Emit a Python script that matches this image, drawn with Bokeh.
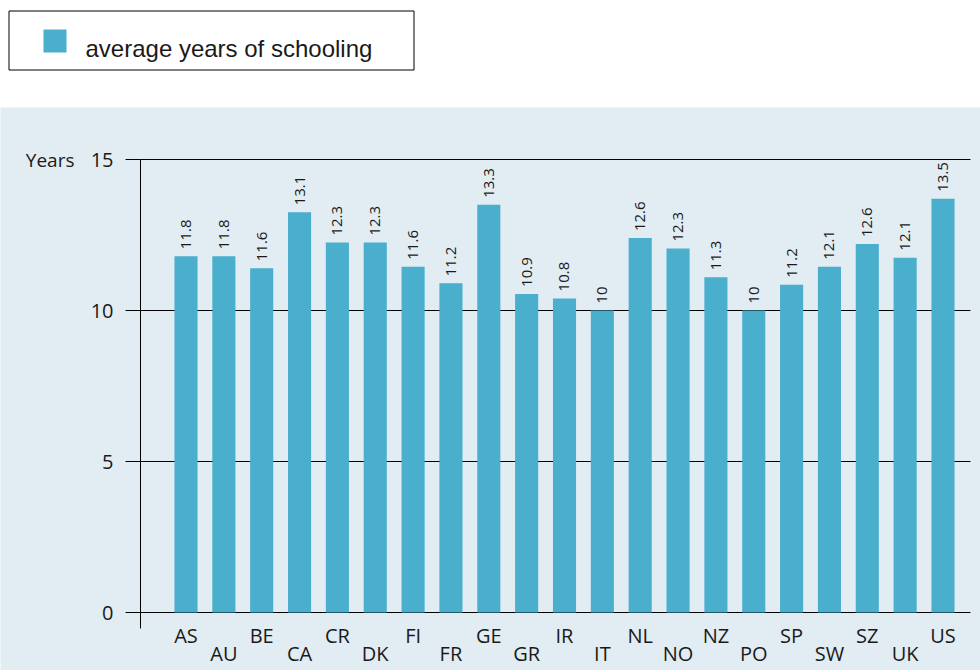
from bokeh.plotting import figure
from bokeh.models import (ColumnDataSource, Range1d, FixedTicker, LabelSet, LinearAxis)
from bokeh.layouts import column
from bokeh.core.properties import value
from bokeh.embed import file_html
from bokeh.resources import INLINE

# ---------------- data ----------------
countries = ["AS", "AU", "BE", "CA", "CR", "DK", "FI", "FR", "GE", "GR", "IR",
             "IT", "NL", "NO", "NZ", "PO", "SP", "SW", "SZ", "UK", "US"]
bar_heights = [11.8, 11.8, 11.4, 13.25, 12.25, 12.25, 11.45, 10.9, 13.5, 10.55, 10.4,
               10.0, 12.4, 12.05, 11.1, 10.0, 10.85, 11.45, 12.2, 11.75, 13.7]
value_labels = ["11.8", "11.8", "11.6", "13.1", "12.3", "12.3", "11.6", "11.2", "13.3", "10.9", "10.8",
                "10", "12.6", "12.3", "11.3", "10", "11.2", "12.1", "12.6", "12.1", "13.5"]
y_ticks = [0, 5, 10, 15]
series_name = "average years of schooling"
y_unit = "Years"

# ---------------- style / geometry (pixels) ----------------
BAR = "#4AAFCD"
PANEL = "#E1ECF3"
TXT = "#1a1a1a"
FONT = "Open Sans"

W = 980
TOP_H = 107
BOT_H = 563
AXIS_PX = 140          # y axis position (page x)
RIGHT_PX = 970         # right end of grid lines
Y15_PX, Y0_PX = 52, 505  # pixel rows (from top of chart figure) of 15 and 0
AXIS_BOTTOM_PX = 521
FIRST_BAR_PX = 185.5
PITCH = 37.85

ppu = (Y0_PX - Y15_PX) / 15.0
y_top = 15 + Y15_PX / ppu
y_bot = -(BOT_H - Y0_PX) / ppu
x_start = 1 - FIRST_BAR_PX / PITCH
x_end = x_start + W / PITCH
x_axis = x_start + AXIS_PX / PITCH
x_right = x_start + RIGHT_PX / PITCH
y_axis_low = -(AXIS_BOTTOM_PX - Y0_PX) / ppu

# ---------------- legend figure ----------------
top = figure(width=W, height=TOP_H, x_range=Range1d(0, W), y_range=Range1d(TOP_H, 0),
             output_backend="svg", toolbar_location=None, title=None,
             min_border=0, min_border_left=0, min_border_right=0,
             min_border_top=0, min_border_bottom=0)
top.axis.visible = False
top.grid.visible = False
top.outline_line_color = None
top.background_fill_color = "white"
top.border_fill_color = "white"
top.quad(left=[8.5], right=[413.5], top=[10.5], bottom=[69.5],
         fill_color="white", line_color="black", line_width=1)
top.quad(left=[43], right=[66], top=[29], bottom=[52], fill_color=BAR, line_color=None)
top.text(x=[85], y=[48], text=[series_name], text_font=value("Liberation Sans"),
         text_font_size="24px", text_color=TXT, text_baseline="alphabetic", text_align="left")

# ---------------- chart ----------------
p = figure(width=W, height=BOT_H, x_range=Range1d(x_start, x_end), y_range=Range1d(y_bot, y_top),
           output_backend="svg", toolbar_location=None, title=None,
           x_axis_location=None, y_axis_location=None,
           min_border=0, min_border_left=0, min_border_right=0,
           min_border_top=0, min_border_bottom=0)
p.background_fill_color = PANEL
p.border_fill_color = PANEL
p.outline_line_color = None
p.grid.visible = False

idx = list(range(1, len(countries) + 1))
src = ColumnDataSource(dict(x=idx, top=bar_heights, lab=value_labels))

# grid lines (from the y ticks)
p.segment(x0=[x_axis] * len(y_ticks), x1=[x_right] * len(y_ticks), y0=y_ticks, y1=y_ticks,
          line_color="black", line_width=1)

p.vbar(x="x", top="top", width=0.61, source=src, fill_color=BAR, line_color=None)

# y axis
yax = LinearAxis(fixed_location=x_axis, bounds=(y_axis_low, max(y_ticks)),
                 ticker=FixedTicker(ticks=y_ticks))
yax.major_tick_out = 15
yax.major_tick_in = 0
yax.minor_tick_out = 0
yax.minor_tick_in = 0
yax.axis_line_color = "black"
yax.major_tick_line_color = "black"
yax.major_label_standoff = 12
yax.major_label_text_font = FONT
yax.major_label_text_font_size = "20px"
yax.major_label_text_color = TXT
p.add_layout(yax, "left")

# unit label beside the top tick
uax = LinearAxis(fixed_location=x_axis, ticker=FixedTicker(ticks=[max(y_ticks)]),
                 major_label_overrides={max(y_ticks): y_unit})
uax.axis_line_color = None
uax.major_tick_line_color = None
uax.minor_tick_line_color = None
uax.major_tick_out = 0
uax.major_tick_in = 0
uax.major_label_standoff = 66
uax.major_label_text_font = FONT
uax.major_label_text_font_size = "19px"
uax.major_label_text_color = TXT
p.add_layout(uax, "left")

# staggered category axes
for start, standoff in ((0, 9), (1, 27)):
    ticks = idx[start::2]
    xax = LinearAxis(fixed_location=0, ticker=FixedTicker(ticks=ticks),
                     major_label_overrides={t: countries[t - 1] for t in ticks})
    xax.axis_line_color = None
    xax.major_tick_line_color = None
    xax.minor_tick_line_color = None
    xax.major_tick_out = 0
    xax.major_tick_in = 0
    xax.major_label_standoff = standoff
    xax.major_label_text_font = FONT
    xax.major_label_text_font_size = "20px"
    xax.major_label_text_color = TXT
    p.add_layout(xax, "below")

# value labels above bars
p.add_layout(LabelSet(x="x", y="top", text="lab", source=src, angle=90, angle_units="deg",
                      y_offset=7, text_align="left", text_baseline="middle",
                      text_font=value(FONT), text_font_size="15px", text_color=TXT))

layout = column(top, p)
open("out.html", "w").write(file_html(layout, INLINE))
